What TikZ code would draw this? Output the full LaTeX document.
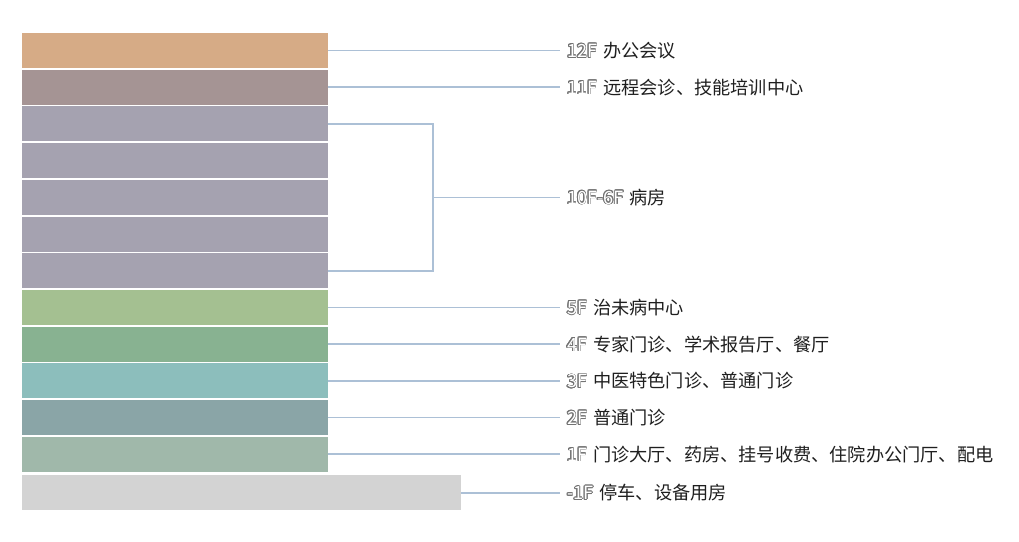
\documentclass[tikz,border=0pt]{standalone}
\usepackage{fontspec}
\setmainfont{Noto Sans CJK SC}
\usepackage{contour}
\contourlength{0.7pt}
\usetikzlibrary{positioning}
\definecolor{officetan}{RGB}{214,171,134}
\definecolor{remotemauve}{RGB}{165,148,148}
\definecolor{wardgray}{RGB}{165,162,176}
\definecolor{preventgreen}{RGB}{164,192,145}
\definecolor{expertgreen}{RGB}{136,178,145}
\definecolor{tcmteal}{RGB}{140,190,188}
\definecolor{clinicteal}{RGB}{138,165,167}
\definecolor{lobbysage}{RGB}{160,184,170}
\definecolor{basegray}{RGB}{211,211,211}
\definecolor{leaderblue}{RGB}{172,192,214}
\newcommand{\flr}[1]{\contour{black!55}{\textcolor{white}{#1}}\hspace{6pt}}

\begin{document}
\begin{tikzpicture}[x=1pt, y=1pt, node distance=1.7pt, font=\fontsize{18.2}{20}\selectfont]
      \tikzstyle{floor}=[rectangle,inner sep=0pt,outer sep=0pt,minimum width=306pt,minimum height=35pt]
      \tikzstyle{lbl}=[inner xsep=7pt,inner ysep=0pt,outer sep=0pt,text=black!88]
      \tikzstyle{link}=[draw=leaderblue,line width=1.6pt]

      \useasboundingbox (0,0) rectangle (1019,-541);

      % floor stack
      \node[floor,fill=officetan,anchor=north west] (f12) at (22,-33) {};
      \node[floor,fill=remotemauve,below=of f12] (f11) {};
      \node[floor,fill=wardgray,below=of f11] (f10) {};
      \node[floor,fill=wardgray,below=of f10] (f9) {};
      \node[floor,fill=wardgray,below=of f9] (f8) {};
      \node[floor,fill=wardgray,below=of f8] (f7) {};
      \node[floor,fill=wardgray,below=of f7] (f6) {};
      \node[floor,fill=preventgreen,below=of f6] (f5) {};
      \node[floor,fill=expertgreen,below=of f5] (f4) {};
      \node[floor,fill=tcmteal,below=of f4] (f3) {};
      \node[floor,fill=clinicteal,below=of f3] (f2) {};
      \node[floor,fill=lobbysage,below=of f2] (f1) {};
      \node[floor,fill=basegray,minimum width=439pt,below right=3.5pt and 0pt of f1.south west] (fb1) {};

      % labels
      \node[lbl,right=232pt of f12] (t12) {\flr{12F}办公会议};
      \node[lbl,right=232pt of f11] (t11) {\flr{11F}远程会诊、技能培训中心};
      \node[lbl,right=232pt of f8] (t10) {\flr{10F-6F}病房};
      \node[lbl,right=232pt of f5] (t5) {\flr{5F}治未病中心};
      \node[lbl,right=232pt of f4] (t4) {\flr{4F}专家门诊、学术报告厅、餐厅};
      \node[lbl,right=232pt of f3] (t3) {\flr{3F}中医特色门诊、普通门诊};
      \node[lbl,right=232pt of f2] (t2) {\flr{2F}普通门诊};
      \node[lbl,right=232pt of f1] (t1) {\flr{1F}门诊大厅、药房、挂号收费、住院办公门厅、配电};
      \node[lbl,right=99pt of fb1] (tb1) {\flr{-1F}停车、设备用房};

      % leader lines
      \coordinate[right=105pt of f8.east] (brk);
      \draw[link] (f12) -- (t12);
      \draw[link] (f11) -- (t11);
      \draw[link] (f10.east) -| (brk) |- (f6.east);
      \draw[link] (brk) -- (t10);
      \draw[link] (f5) -- (t5);
      \draw[link] (f4) -- (t4);
      \draw[link] (f3) -- (t3);
      \draw[link] (f2) -- (t2);
      \draw[link] (f1) -- (t1);
      \draw[link] (fb1) -- (tb1);
    \end{tikzpicture}
\end{document}
